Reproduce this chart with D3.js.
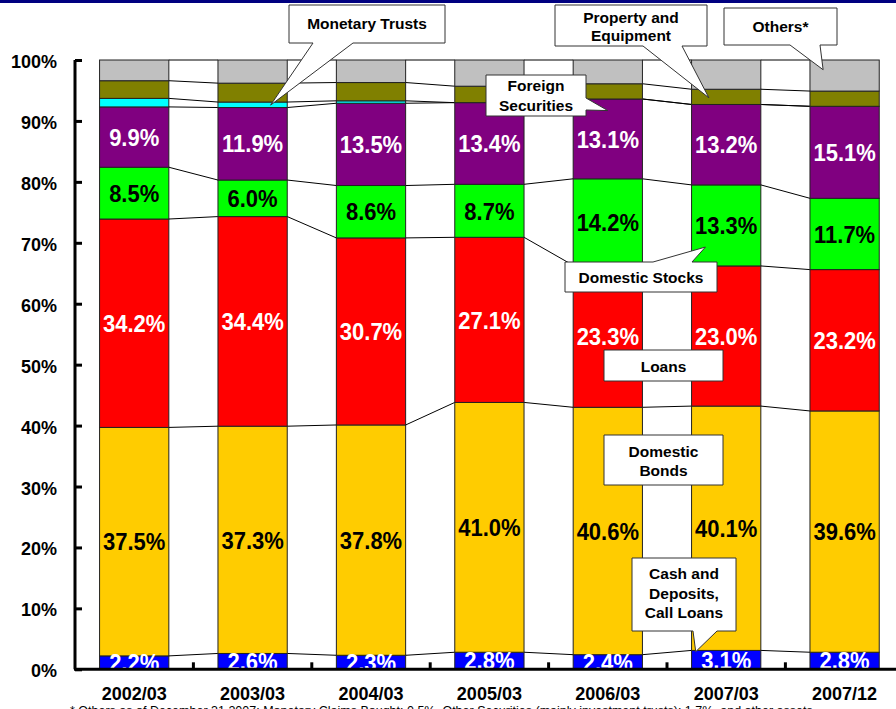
<!DOCTYPE html>
<html>
<head>
<meta charset="utf-8">
<script src="https://cdn.jsdelivr.net/npm/d3@7"></script>
<style>
html,body{margin:0;padding:0;background:#fff;overflow:hidden;}
svg{display:block;font-family:"Liberation Sans",Arial,sans-serif;}
</style>
</head>
<body>
<svg id="chart" width="896" height="709"></svg>
<script>
// ---- data ----
const categories = ["2002/03","2003/03","2004/03","2005/03","2006/03","2007/03","2007/12"];
const cash              = [2.2, 2.6, 2.3, 2.8, 2.4, 3.1, 2.8];
const domesticBonds     = [37.5, 37.3, 37.8, 41.0, 40.6, 40.1, 39.6];
const loans             = [34.2, 34.4, 30.7, 27.1, 23.3, 23.0, 23.2];
const domesticStocks    = [8.5, 6.0, 8.6, 8.7, 14.2, 13.3, 11.7];
const foreignSecurities = [9.9, 11.9, 13.5, 13.4, 13.1, 13.2, 15.1];
const monetaryTrusts    = [1.4, 0.9, 0.4, 0, 0, 0, 0];
const propertyEquipment = [2.9, 3.1, 3.0, 2.7, 2.5, 2.5, 2.5];
const others            = [3.4, 3.8, 3.7, 4.3, 3.9, 4.8, 5.1];
const yTicks = [0,10,20,30,40,50,60,70,80,90,100];
const footnote = "* Others as of December 31 2007: Monetary Claims Bought: 0.5%, Other Securities (mainly investment trusts): 1.7%, and other assets";

const seriesNames = ["Cash","Domestic Bonds","Loans","Domestic Stocks","Foreign Securities","Monetary Trusts","Property and Equipment","Others"];
const seriesValues = [cash, domesticBonds, loans, domesticStocks, foreignSecurities, monetaryTrusts, propertyEquipment, others];
const seriesColors = ["#0000FF","#FFCC00","#FF0000","#00FF00","#800080","#00FFFF","#808000","#C0C0C0"];
const labelColors  = ["#fff","#000","#fff","#000","#fff",null,null,null];

const svg = d3.select("#chart");

// top band
svg.append("rect").attr("x",0).attr("y",0).attr("width",896).attr("height",3).attr("fill","#000080");

const x = d3.scaleBand().domain(categories).range([75, 75 + 7*118.4]).paddingInner(0.415).paddingOuter(0.2075);
const y = d3.scaleLinear().domain([0,100]).range([669.3, 60]);
const bw = x.bandwidth();

// stacked data
const table = categories.map((c,i) => {
  const o = {cat:c};
  seriesNames.forEach((s,k) => o[s] = seriesValues[k][i]);
  return o;
});
const stack = d3.stack().keys(seriesNames)(table);

// connector (series) lines
const gLines = svg.append("g");
stack.forEach(layer => {
  for (let i = 0; i < categories.length - 1; i++) {
    gLines.append("line")
      .attr("x1", x(categories[i]) + bw).attr("y1", y(layer[i][1]))
      .attr("x2", x(categories[i+1])).attr("y2", y(layer[i+1][1]))
      .attr("stroke","#000").attr("stroke-width",1);
  }
});

// bars
const gBars = svg.append("g");
stack.forEach((layer,k) => {
  gBars.selectAll(null).data(layer).enter().append("rect")
    .attr("x", d => x(d.data.cat))
    .attr("y", d => y(d[1]))
    .attr("width", bw)
    .attr("height", d => Math.max(0, y(d[0]) - y(d[1])))
    .attr("fill", seriesColors[k])
    .attr("stroke", "#222")
    .attr("stroke-width", 1);
});

// value labels
const gLab = svg.append("g");
stack.forEach((layer,k) => {
  if (!labelColors[k]) return;
  gLab.selectAll(null).data(layer).enter().append("text")
    .attr("transform", d => `translate(${x(d.data.cat) + bw/2},${y((d[0]+d[1])/2)}) scale(1,1.1)`)
    .attr("text-anchor","middle")
    .attr("dy","0.36em")
    .attr("font-size", 22)
    .attr("font-weight","bold")
    .attr("fill", labelColors[k])
    .text(d => (d[1]-d[0]).toFixed(1) + "%");
});

// axes
const yAxis = d3.axisRight(y).tickValues(yTicks).tickSize(7).tickFormat("");
const gy = svg.append("g").attr("transform","translate(75,0)").call(yAxis);
gy.select(".domain").attr("stroke","#000").attr("stroke-width",3).attr("d", `M0,${y(100)}V${y(0)}`);
gy.selectAll(".tick line").attr("stroke","#000").attr("stroke-width",3);

svg.append("g").selectAll(null).data(yTicks).enter().append("text")
  .attr("x", 57).attr("y", d => y(d) + 8)
  .attr("text-anchor","end")
  .attr("font-size",18).attr("font-weight","bold")
  .text(d => d + "%");

const boundaries = d3.range(categories.length + 1).map(i => 75 + i*x.step());
const gx = svg.append("g");
gx.append("line").attr("x1",74).attr("x2",896).attr("y1",y(0)).attr("y2",y(0)).attr("stroke","#000").attr("stroke-width",3);
gx.selectAll(null).data(boundaries.slice(1)).enter().append("line")
  .attr("x1",d=>d).attr("x2",d=>d).attr("y1",y(0)).attr("y2",y(0)-7)
  .attr("stroke","#000").attr("stroke-width",3);

svg.append("g").selectAll(null).data(categories).enter().append("text")
  .attr("x", d => x(d) + bw/2).attr("y", 700)
  .attr("text-anchor","middle")
  .attr("font-size",18).attr("font-weight","bold")
  .text(d => d);

svg.append("text").attr("x",70).attr("y",714.5).attr("font-size",12.5).text(footnote);

// callouts
function calloutPath(b, wedge) {
  const [x0,y0,x1,y1] = b;
  let p = `M${x0},${y0}`;
  if (wedge && wedge.edge === "top") p += `L${wedge.a},${y0}L${wedge.tip[0]},${wedge.tip[1]}L${wedge.b},${y0}`;
  p += `L${x1},${y0}`;
  if (wedge && wedge.edge === "right") p += `L${x1},${wedge.a}L${wedge.tip[0]},${wedge.tip[1]}L${x1},${wedge.b}`;
  p += `L${x1},${y1}`;
  if (wedge && wedge.edge === "bottom") p += `L${wedge.b},${y1}L${wedge.tip[0]},${wedge.tip[1]}L${wedge.a},${y1}`;
  p += `L${x0},${y1}Z`;
  return p;
}
const tipAt = (cat, frac, v) => [x(cat) + frac*bw, y(v)];
const callouts = [
  {lines:["Monetary Trusts"], box:[289,5,445,43], base:[29], wedge:{edge:"bottom",a:313,b:353,tip:tipAt("2003/03",0.76,92.6)}},
  {lines:["Property and","Equipment"], box:[555,5,707,46], base:[22.5,41], wedge:{edge:"bottom",a:643,b:682,tip:tipAt("2007/03",0.25,93.8)}},
  {lines:["Others*"], box:[724,8,837,45], base:[32], wedge:{edge:"bottom",a:790,b:820,tip:tipAt("2007/12",0.19,98.4)}},
  {lines:["Foreign","Securities"], box:[486,75,586,116], base:[91,110.5], wedge:{edge:"right",a:98,b:110,tip:tipAt("2006/03",0.5,91.7)}},
  {lines:["Domestic Stocks"], box:[565,262,717,292], base:[283], wedge:{edge:"top",a:653,b:692,tip:tipAt("2007/03",0.2,69.3)}},
  {lines:["Loans"], box:[604,350,723,381], base:[372], wedge:null},
  {lines:["Domestic","Bonds"], box:[604,435,723,485], base:[457,476], wedge:null},
  {lines:["Cash and","Deposits,","Call Loans"], box:[632,558,736,631], base:[579,599,618], wedge:{edge:"bottom",a:693,b:717,tip:tipAt("2007/03",0.06,2.9)}}
];
const gC = svg.append("g");
callouts.forEach(c => {
  gC.append("path").attr("d", calloutPath(c.box, c.wedge))
    .attr("fill","#fff").attr("stroke","#333").attr("stroke-width",1);
  const cx = (c.box[0] + c.box[2]) / 2;
  c.lines.forEach((t,i) => {
    gC.append("text").attr("x",cx).attr("y",c.base[i])
      .attr("text-anchor","middle").attr("font-size",15.5).attr("font-weight","bold")
      .attr("fill","#000").text(t);
  });
});
</script>
</body>
</html>
